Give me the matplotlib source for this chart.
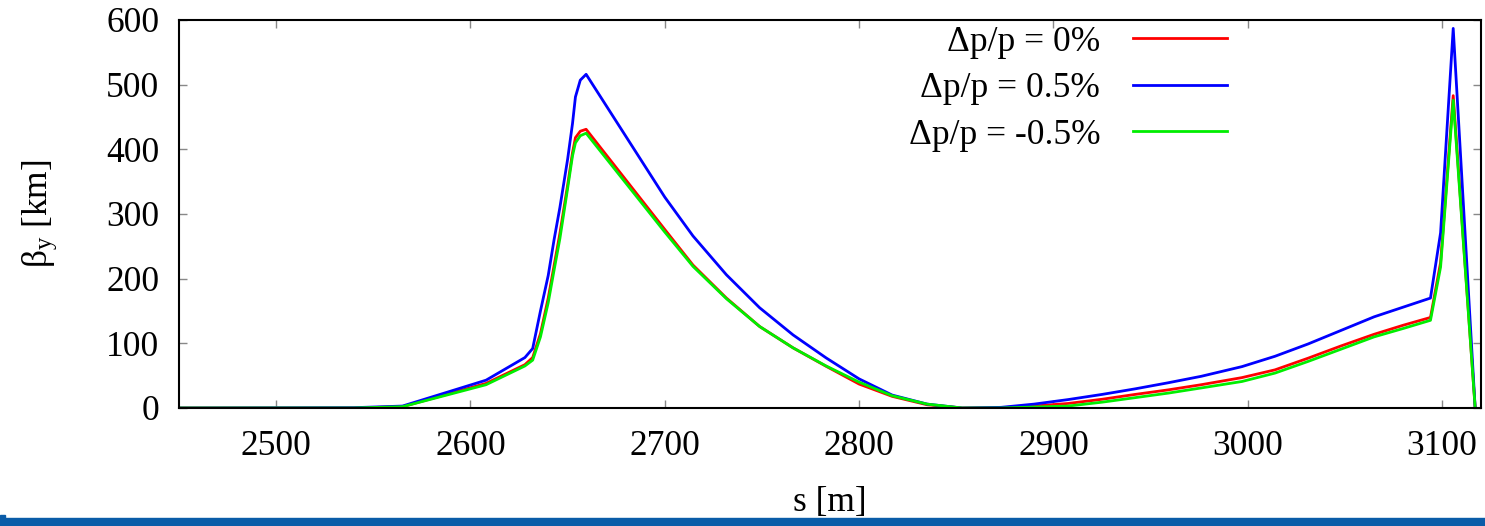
import matplotlib.pyplot as plt
from matplotlib.patches import Rectangle
import numpy as np

plt.rcParams['font.family'] = ['Liberation Serif', 'DejaVu Serif']
plt.rcParams['mathtext.fontset'] = 'custom'
plt.rcParams['mathtext.rm'] = 'Liberation Serif'
plt.rcParams['mathtext.it'] = 'Liberation Serif'

# position along the line [m]
s = [2450, 2540, 2565, 2608, 2628, 2632, 2636, 2640, 2643, 2646,
     2650, 2652.5, 2654, 2656.5, 2659.5, 2700, 2714.5, 2731.7, 2748.8, 2766,
     2783, 2800, 2817, 2835, 2853, 2873, 2890, 2907.5, 2925, 2942,
     2959, 2976, 2997, 3014, 3031, 3048, 3065, 3080, 3094, 3099.2,
     3105.7, 3117]

# beta_y [km] for the three momentum offsets
beta_p05 = [0, 0.5, 3, 43, 78, 92, 150, 205, 260, 310,
            385, 440, 481, 507, 516, 326, 266, 206, 155, 113,
            77.5, 45, 20, 6, 0, 1, 6, 13, 21, 29.6,
            39, 49, 64, 80, 99, 120, 141, 156, 170, 271,
            587, 0]
beta_0 = [0, 0, 2, 38, 67, 78, 115, 170, 220, 270,
          345, 395, 418, 428, 431, 276, 221, 170, 126, 93,
          64.5, 37, 18, 5, 0, 0.5, 3, 7, 13.5, 21,
          28, 36, 47, 59, 77, 96, 114, 128, 140, 225,
          483, 0]
beta_m05 = [0, 0, 2, 36, 65, 74, 110, 163, 213, 262,
            340, 390, 410, 421, 425, 272, 219, 169, 126, 93,
            65, 40, 19, 6, 0, 0, 1.5, 3, 9, 16,
            23, 31, 41, 54, 72, 91, 110, 123, 135.6, 218,
            476, 0]

labels = ['Δp/p = 0%', 'Δp/p = 0.5%', 'Δp/p = -0.5%']
colors = ['#ff0000', '#0000ff', '#00ee00']

fig = plt.figure(figsize=(14.85, 5.26), dpi=100)
ax = fig.add_axes([179 / 1485, 1 - 408 / 526, 1302 / 1485, 388 / 526])

for y, lab, c in zip([beta_0, beta_p05, beta_m05], labels, colors):
    ax.plot(s, y, color=c, lw=2.0, label=lab)

ax.set_xlim(2450, 3120)
ax.set_ylim(0, 600)
ax.set_xticks(np.arange(2500, 3101, 100))
ax.set_yticks(np.arange(0, 601, 100))
ax.tick_params(direction='in', length=6, width=1, color='#888888',
               labelsize=25.5, pad=14, top=True, right=True)
ax.tick_params(axis='x', pad=16)
for sp in ax.spines.values():
    sp.set_linewidth(1.5)

ax.set_xlabel('s [m]', fontsize=25.5)
ax.xaxis.set_label_coords(0.5, -0.2)
ax.xaxis.label.set_va('top')
ax.set_ylabel(r'$\mathrm{\beta_y}$ [km]', fontsize=25.5)
ax.yaxis.set_label_coords(-0.092, 0.5)

ax.legend(loc='upper right', bbox_to_anchor=(0.805, 0.985), frameon=False,
          markerfirst=False, fontsize=25.5, handlelength=2.65,
          handletextpad=0.93, labelspacing=0.38, borderpad=0,
          borderaxespad=0)

# blue footer bar of the slide
fig.patches.append(Rectangle((0, 0), 1, 8 / 526, transform=fig.transFigure,
                             color='#0a5ca8', zorder=5))
fig.patches.append(Rectangle((0, 8 / 526), 5 / 1485, 3 / 526,
                             transform=fig.transFigure, color='#0a5ca8',
                             zorder=5))

fig.savefig('out.png', dpi=100)
